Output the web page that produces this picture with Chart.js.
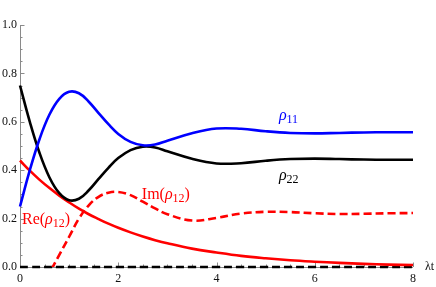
<!DOCTYPE html>
<html>
<head>
<meta charset="utf-8">
<script src="https://cdn.jsdelivr.net/npm/chart.js@4"></script>
<style>
  html, body { margin: 0; padding: 0; background: #fff; }
  #chart_Canvas { display: block; }
</style>
</head>
<body>
<canvas id="chart_Canvas" width="436" height="287"></canvas>
<script>
// time samples (lambda t)
const t_Values = [0, 0.2, 0.4, 0.6, 0.8, 1.0, 1.2, 1.4, 1.6, 1.8, 2.0, 2.25, 2.5, 2.75, 3.0, 3.5, 4.0, 4.5, 5.0, 5.5, 6.0, 6.5, 7.0, 7.5, 8.0];
const rho11_Values = [0.25, 0.40, 0.53, 0.63, 0.695, 0.724, 0.718, 0.683, 0.636, 0.59, 0.550, 0.517, 0.503, 0.506, 0.522, 0.553, 0.572, 0.571, 0.561, 0.554, 0.552, 0.554, 0.556, 0.557, 0.557];
const rho22_Values = [0.75, 0.60, 0.47, 0.37, 0.305, 0.276, 0.282, 0.317, 0.364, 0.41, 0.45, 0.483, 0.497, 0.494, 0.478, 0.447, 0.428, 0.429, 0.439, 0.446, 0.448, 0.446, 0.444, 0.443, 0.443];
const re12_Values = [0.44, 0.398, 0.360, 0.326, 0.295, 0.267, 0.241, 0.218, 0.198, 0.179, 0.162, 0.143, 0.126, 0.111, 0.098, 0.076, 0.060, 0.046, 0.036, 0.028, 0.022, 0.017, 0.013, 0.010, 0.008];
const im12_Values = [-0.22, -0.17, -0.10, -0.025, 0.05, 0.125, 0.20, 0.255, 0.29, 0.307, 0.31, 0.297, 0.27, 0.242, 0.218, 0.192, 0.203, 0.221, 0.228, 0.227, 0.222, 0.219, 0.220, 0.222, 0.223];
const zero_Values = [0, 0, 0, 0, 0, 0, 0, 0, 0, 0, 0, 0, 0, 0, 0, 0, 0, 0, 0, 0, 0, 0, 0, 0, 0];

// axis ticks
const x_Ticks = [0, 2, 4, 6, 8];
const y_Ticks = [0.0, 0.2, 0.4, 0.6, 0.8, 1.0];
const x_Title = "λt";

const serif = "'Liberation Serif', 'DejaVu Serif', serif";

// curve labels: [t, value, parts]
const curve_Labels = [
  { t: 0.04, v: 0.178, color: "#ff0000", parts: [["Re(", ""], ["ρ", "italic"], ["12", "sub"], [")", ""]] },
  { t: 2.48, v: 0.283, color: "#ff0000", parts: [["Im(", ""], ["ρ", "italic"], ["12", "sub"], [")", ""]] },
  { t: 5.27, v: 0.607, color: "#0000ff", parts: [["ρ", "italic"], ["11", "sub"]] },
  { t: 5.27, v: 0.36, color: "#000000", parts: [["ρ", "italic"], ["22", "sub"]] },
];

function to_Points(values) {
  return values.map((v, i) => ({ x: t_Values[i], y: v }));
}

function make_Set(values, color, dashed, clip) {
  return {
    data: to_Points(values),
    borderColor: color,
    borderWidth: 2.6,
    borderDash: dashed ? [8, 4] : [],
    pointRadius: 0,
    fill: false,
    tension: 0.4,
    clip: clip,
  };
}

function draw_Parts(ctx, x, y, parts, color) {
  ctx.fillStyle = color;
  ctx.textBaseline = "alphabetic";
  ctx.textAlign = "left";
  let cur_X = x;
  for (const [text, kind] of parts) {
    let dy = 0;
    if (kind === "italic") ctx.font = `italic 16px ${serif}`;
    else if (kind === "sub") { ctx.font = `12px ${serif}`; dy = 3; }
    else ctx.font = `16px ${serif}`;
    ctx.fillText(text, cur_X, y + dy);
    cur_X += ctx.measureText(text).width;
  }
}

const axes_Plugin = {
  id: "axes_Plugin",
  beforeDatasetsDraw(chart) {
    const { ctx, scales } = chart;
    const xs = scales.x, ys = scales.y;
    const left = xs.getPixelForValue(0), right = xs.getPixelForValue(8);
    const bottom = ys.getPixelForValue(0), top = ys.getPixelForValue(1);
    ctx.save();
    ctx.strokeStyle = "#8a8a8a";
    ctx.lineWidth = 1;
    ctx.beginPath();
    ctx.moveTo(left + 0.5, top);
    ctx.lineTo(left + 0.5, bottom);
    ctx.moveTo(left, bottom + 0.5);
    ctx.lineTo(right, bottom + 0.5);
    // y ticks, minor every 0.05
    for (let k = 0; k <= 20; k++) {
      const py = Math.round(ys.getPixelForValue(k * 0.05)) + 0.5;
      const len = k % 4 === 0 ? 4.5 : 2.5;
      ctx.moveTo(left, py);
      ctx.lineTo(left + len, py);
    }
    // x ticks, minor every 0.5
    for (let k = 0; k <= 16; k++) {
      const px = Math.round(xs.getPixelForValue(k * 0.5)) + 0.5;
      const len = k % 4 === 0 ? 4.5 : 2.5;
      ctx.moveTo(px, bottom);
      ctx.lineTo(px, bottom - len);
    }
    ctx.stroke();

    //tick labels
    ctx.fillStyle = "#111";
    ctx.font = `12px ${serif}`;
    ctx.textAlign = "right";
    ctx.textBaseline = "middle";
    for (const v of y_Ticks) {
      ctx.fillText(v.toFixed(1), left - 3, ys.getPixelForValue(v));
    }
    ctx.textAlign = "center";
    ctx.textBaseline = "top";
    for (const t of x_Ticks) {
      ctx.fillText(String(t), xs.getPixelForValue(t), bottom + 6);
    }
    ctx.textAlign = "left";
    ctx.textBaseline = "middle";
    ctx.fillText(x_Title, right + 12, bottom);
    ctx.restore();
  },
  afterDatasetsDraw(chart) {
    const { ctx, scales } = chart;
    ctx.save();
    for (const lab of curve_Labels) {
      draw_Parts(ctx, scales.x.getPixelForValue(lab.t), scales.y.getPixelForValue(lab.v), lab.parts, lab.color);
    }
    ctx.restore();
  },
};

const chart_Canvas = document.getElementById("chart_Canvas");
const rho_Chart = new Chart(chart_Canvas, {
  type: "line",
  data: {
    datasets: [
      make_Set(rho11_Values, "#0000ff", false, 3),
      make_Set(rho22_Values, "#000000", false, 3),
      make_Set(re12_Values, "#ff0000", false, 3),
      make_Set(im12_Values, "#ff0000", true, 0),
      make_Set(zero_Values, "#000000", true, 3),
    ],
  },
  options: {
    responsive: false,
    animation: false,
    devicePixelRatio: 1,
    layout: { padding: { left: 20, right: 23, top: 25, bottom: 20 } },
    plugins: { legend: { display: false }, tooltip: { enabled: false } },
    scales: {
      x: { type: "linear", min: 0, max: 8, display: false },
      y: { type: "linear", min: 0, max: 1, display: false },
    },
  },
  plugins: [axes_Plugin],
});
</script>
</body>
</html>
